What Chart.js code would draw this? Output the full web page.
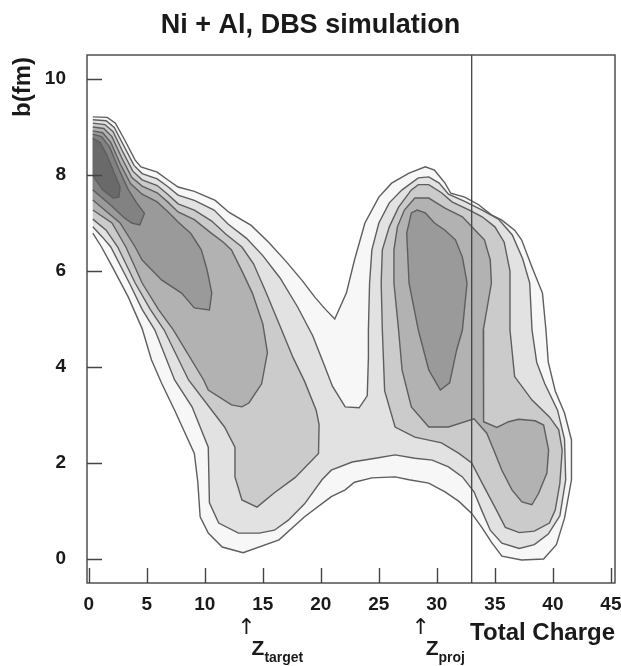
<!DOCTYPE html>
<html>
<head>
<meta charset="utf-8">
<script src="https://cdn.jsdelivr.net/npm/chart.js@4.4.1/dist/chart.umd.min.js"></script>
<style>
  html, body { margin: 0; padding: 0; background: #fff; }
  #grafico { display: block; }
</style>
</head>
<body>
<canvas id="grafico" width="621" height="666"></canvas>
<script>
// Textos del gráfico
const titulo = "Ni + Al, DBS simulation";
const tituloY = "b(fm)";
const tituloX = "Total Charge";

// Marcas de los ejes
const xTicks = [0, 5, 10, 15, 20, 25, 30, 35, 40, 45];
const yTicks = [0, 2, 4, 6, 8, 10];

// Línea vertical (carga total = 33)
const lineaCorte = 33;

// Flechas Z del blanco y del proyectil
const zMarcas = [13.6, 28.6];
const zSubindices = ["target", "proj"];

// Contornos: [carga total, b(fm)]
// Nivel 1 (el más externo) envuelve los dos lóbulos
const nivel1 = [
  [0.35,9.21],[1.6,9.2],[2.3,9.08],[3.1,8.73],[4.0,8.31],[4.5,8.17],[5.9,8.06],[6.8,7.9],[7.7,7.75],[9.1,7.66],
  [10.9,7.47],[12.1,7.22],[14.0,6.95],[15.5,6.6],[17.0,6.2],[18.4,5.8],[19.5,5.45],[20.4,5.2],[21.2,5.0],[22.2,5.54],
  [22.9,6.23],[23.8,7.0],[25.0,7.54],[26.1,7.83],[27.6,8.04],[29.0,8.17],[29.8,8.1],[30.7,7.83],[31.2,7.62],[32.4,7.54],
  [33.6,7.38],[34.7,7.17],[35.6,7.06],[36.7,6.85],[37.3,6.65],[38.2,6.08],[39.1,5.54],[39.4,4.77],[39.6,4.1],[40.2,3.5],
  [41.0,3.04],[41.6,2.48],[41.6,1.65],[41.0,0.85],[40.3,0.3],[39.2,0.0],[37.3,-0.02],[35.6,0.06],[34.7,0.35],[33.9,0.65],
  [33.0,0.95],[31.9,1.2],[30.7,1.4],[29.3,1.58],[27.6,1.65],[26.4,1.71],[24.4,1.69],[22.9,1.6],[22.1,1.44],[20.9,1.3],
  [18.6,0.88],[16.4,0.4],[13.3,0.13],[11.5,0.25],[10.3,0.54],[9.6,0.88],[9.4,1.6],[9.1,2.2],[7.4,3.1],[6.3,3.65],
  [5.4,4.15],[4.6,4.8],[3.4,5.46],[2.0,6.1],[1.1,6.5],[0.35,6.79]
];
const nivel2 = [
  [0.35,9.15],[1.5,9.13],[2.2,8.99],[3.0,8.62],[3.9,8.2],[4.6,8.03],[5.9,7.92],[6.8,7.76],[7.7,7.58],[9.1,7.47],
  [10.8,7.27],[12.0,6.98],[13.6,6.68],[15.0,6.32],[16.5,5.85],[18.0,5.25],[19.3,4.65],[20.2,4.1],[21.0,3.6],[22.1,3.17],
  [23.3,3.15],[24.0,3.4],[24.1,4.2],[24.1,4.77],[24.2,5.75],[24.4,6.44],[25.0,7.0],[25.9,7.42],[27.0,7.69],[28.4,7.94],
  [29.3,7.96],[30.2,7.83],[31.0,7.6],[32.4,7.45],[33.9,7.27],[35.3,7.08],[36.5,6.75],[37.4,6.25],[38.0,5.75],[38.2,4.77],
  [38.6,4.1],[39.3,3.65],[40.4,3.1],[41.0,2.5],[41.1,1.65],[40.6,0.9],[39.6,0.52],[38.4,0.3],[37.1,0.22],[35.6,0.33],
  [34.6,0.6],[33.8,1.05],[33.2,1.4],[32.2,1.71],[31.0,1.92],[29.6,2.06],[28.1,2.1],[26.4,2.17],[24.7,2.1],[22.7,2.02],
  [20.9,1.85],[20.1,1.65],[18.6,1.15],[17.2,0.81],[16.0,0.6],[14.7,0.54],[12.9,0.54],[11.2,0.75],[10.4,1.17],[10.3,2.33],
  [8.9,3.17],[7.4,3.73],[5.7,4.77],[4.6,5.2],[3.5,5.75],[1.9,6.5],[1.2,6.7],[0.35,6.92]
];
const nivel3Izq = [
  [0.35,9.08],[1.4,9.05],[2.1,8.9],[2.9,8.5],[3.8,8.08],[4.6,7.9],[5.9,7.78],[6.8,7.6],[7.7,7.4],[9.1,7.27],
  [10.6,7.04],[11.8,6.77],[13.2,6.5],[14.2,6.15],[15.2,5.6],[16.4,4.9],[17.6,4.2],[18.6,3.7],[19.6,3.1],[19.85,2.8],
  [19.8,2.2],[17.8,1.7],[16.0,1.38],[14.5,1.08],[13.2,1.23],[12.6,1.71],[12.6,2.33],[11.7,2.75],[8.6,3.73],[6.5,4.77],
  [5.3,5.2],[4.0,5.75],[2.5,6.5],[1.5,6.85],[0.35,7.08]
];
const nivel3Der = [
  [25.3,4.77],[25.2,5.75],[25.3,6.44],[25.9,6.92],[26.7,7.33],[27.8,7.69],[28.4,7.8],[29.3,7.8],[30.4,7.63],[31.3,7.44],
  [32.8,7.27],[33.9,7.13],[35.0,6.92],[35.8,6.6],[36.3,6.0],[36.3,4.77],[36.7,3.8],[38.2,3.31],[39.7,2.96],[40.5,2.69],
  [40.8,2.27],[40.6,1.58],[40.2,1.02],[39.7,0.75],[38.4,0.58],[37.1,0.55],[35.9,0.66],[35.0,1.08],[33.9,1.58],[33.0,2.0],
  [31.9,2.2],[30.4,2.42],[28.1,2.54],[26.4,2.75],[25.5,3.5]
];
const nivel4Izq = [
  [0.35,9.0],[1.3,8.97],[2.0,8.8],[2.8,8.38],[3.7,7.95],[4.6,7.77],[5.9,7.63],[6.8,7.44],[7.7,7.23],[9.1,7.07],
  [10.5,6.8],[11.6,6.6],[12.3,6.44],[13.3,5.95],[14.1,5.54],[15.0,4.9],[15.4,4.3],[14.9,3.65],[13.8,3.25],[13.2,3.17],
  [12.3,3.21],[10.3,3.52],[9.9,3.73],[7.3,4.77],[6.0,5.2],[4.6,5.75],[3.2,6.5],[2.0,7.0],[0.35,7.27]
];
const nivel4Der = [
  [26.7,4.77],[26.3,5.75],[26.3,6.44],[26.6,6.92],[27.2,7.27],[28.1,7.52],[29.3,7.52],[30.7,7.31],[32.2,7.13],[33.3,6.85],
  [34.1,6.65],[34.6,6.23],[34.7,5.75],[34.0,4.77],[34.0,3.6],[34.05,2.86],[35.17,2.74],[36.18,2.86],[37.04,2.91],[38.47,2.88],
  [39.2,2.79],[39.63,2.27],[39.48,1.79],[38.77,1.37],[38.19,1.13],[37.33,1.19],[36.47,1.44],[35.6,1.85],[34.9,2.27],[34.3,2.62],
  [33.2,2.92],[31.0,2.75],[29.3,2.75],[27.8,3.17],[27.0,3.94]
];
const nivel5Izq = [
  [0.35,8.92],[1.2,8.88],[1.9,8.68],[2.7,8.24],[3.6,7.82],[4.6,7.6],[5.9,7.44],[6.8,7.24],[7.7,7.02],[8.8,6.78],
  [9.7,6.44],[10.2,6.02],[10.6,5.54],[10.4,5.19],[9.1,5.23],[8.0,5.54],[6.3,5.81],[4.6,6.23],[4.0,6.5],[2.7,7.0],
  [0.35,7.48]
];
const nivel5Der = [
  [28.4,4.77],[27.6,5.75],[27.4,6.79],[27.8,7.21],[28.3,7.27],[29.0,7.21],[29.8,7.0],[30.7,6.85],[31.6,6.65],[32.2,6.29],
  [32.6,5.75],[32.2,4.77],[31.7,4.35],[31.1,3.67],[30.3,3.52],[29.3,3.94]
];
const nivel6 = [
  [0.35,8.85],[1.1,8.8],[1.8,8.58],[2.6,8.12],[3.4,7.7],[4.1,7.43],[4.8,7.2],[4.4,6.96],[3.7,7.0],[3.0,7.12],
  [2.0,7.35],[0.35,7.69]
];
const nivel7 = [
  [0.35,8.77],[1.0,8.67],[1.6,8.4],[2.1,8.1],[2.7,7.75],[2.6,7.54],[2.1,7.52],[1.2,7.69],[0.6,7.9],[0.35,8.0]
];

// Grises de relleno por nivel (1 = exterior)
const grises = ['#f7f7f7', '#e2e2e2', '#cbcbcb', '#b2b2b2', '#9a9a9a', '#828282', '#6a6a6a'];
const colorLinea = '#5e5e5e';
const fuente = '"Liberation Sans", Arial, Helvetica, sans-serif';

const contornos = [
  { nivel: 1, puntos: nivel1 },
  { nivel: 2, puntos: nivel2 },
  { nivel: 3, puntos: nivel3Izq },
  { nivel: 3, puntos: nivel3Der },
  { nivel: 4, puntos: nivel4Izq },
  { nivel: 4, puntos: nivel4Der },
  { nivel: 5, puntos: nivel5Izq },
  { nivel: 5, puntos: nivel5Der },
  { nivel: 6, puntos: nivel6 },
  { nivel: 7, puntos: nivel7 }
];

// Cerrar cada polígono y pasarlo a {x, y}
function aPoligono(puntos) {
  const pts = puntos.map(p => ({ x: p[0], y: p[1] }));
  pts.push({ x: puntos[0][0], y: puntos[0][1] });
  return pts;
}

// El lado pegado al eje izquierdo no se traza
const bordeOculto = ctx =>
  (ctx.p0.parsed.x < 0.5 && ctx.p1.parsed.x < 0.5) ? 'rgba(0,0,0,0)' : colorLinea;

const datasets = contornos.map(c => ({
  data: aPoligono(c.puntos),
  showLine: true,
  fill: 'shape',
  backgroundColor: grises[c.nivel - 1],
  borderColor: colorLinea,
  borderWidth: 1.4,
  pointRadius: 0,
  tension: 0,
  order: 20 - c.nivel,
  segment: { borderColor: bordeOculto }
}));

datasets.push({
  data: [{ x: lineaCorte, y: -0.5 }, { x: lineaCorte, y: 10.5 }],
  showLine: true,
  fill: false,
  borderColor: '#444',
  borderWidth: 1.3,
  pointRadius: 0,
  order: 0
});

// Marco, marcas interiores y textos
const decoracion = {
  id: 'decoracion',
  afterDraw(chart) {
    const { ctx, chartArea: a, scales } = chart;
    const x = scales.x, y = scales.y;
    ctx.save();
    ctx.strokeStyle = '#444';
    ctx.lineWidth = 1.4;
    ctx.strokeRect(a.left, a.top, a.right - a.left, a.bottom - a.top);

    ctx.beginPath();
    xTicks.forEach(v => {
      const px = Math.round(x.getPixelForValue(v)) + 0.5;
      ctx.moveTo(px, a.bottom);
      ctx.lineTo(px, a.bottom - 15);
    });
    yTicks.forEach(v => {
      const py = Math.round(y.getPixelForValue(v)) + 0.5;
      ctx.moveTo(a.left, py);
      ctx.lineTo(a.left + 15, py);
    });
    ctx.stroke();

    ctx.fillStyle = '#1a1a1a';
    ctx.textBaseline = 'alphabetic';

    ctx.font = 'bold 27px ' + fuente;
    ctx.textAlign = 'center';
    ctx.fillText(titulo, chart.width / 2, 33);

    ctx.font = 'bold 24px ' + fuente;
    ctx.textAlign = 'right';
    ctx.fillText(tituloX, a.right, 640);

    ctx.save();
    ctx.translate(30, 87);
    ctx.rotate(-Math.PI / 2);
    ctx.textAlign = 'center';
    ctx.fillText(tituloY, 0, 0);
    ctx.restore();

    zMarcas.forEach((v, i) => {
      const px = x.getPixelForValue(v);
      ctx.font = '22px "DejaVu Sans", sans-serif';
      ctx.textAlign = 'center';
      ctx.fillText('\u2191', px, 634);
      ctx.textAlign = 'left';
      ctx.font = 'bold 21px ' + fuente;
      ctx.fillText('Z', px + 5, 655);
      const w = ctx.measureText('Z').width;
      ctx.font = 'bold 14px ' + fuente;
      ctx.fillText(zSubindices[i], px + 5 + w, 662);
    });
    ctx.restore();
  }
};

const ctx = document.getElementById('grafico').getContext('2d');
new Chart(ctx, {
  type: 'scatter',
  data: { datasets },
  options: {
    responsive: false,
    animation: false,
    events: [],
    layout: { padding: { top: 55, right: 6, left: 0, bottom: 0 } },
    plugins: {
      legend: { display: false },
      tooltip: { enabled: false },
      title: { display: false }
    },
    scales: {
      x: {
        type: 'linear',
        min: -0.15,
        max: 45.35,
        grid: { display: false, drawTicks: false },
        border: { display: false },
        ticks: { color: '#1a1a1a', padding: 10, font: { family: fuente, size: 19, weight: 'bold' } },
        afterBuildTicks: s => { s.ticks = xTicks.map(v => ({ value: v })); },
        afterFit: s => { s.height = 83; s.paddingLeft = 0; s.paddingRight = 0; }
      },
      y: {
        type: 'linear',
        min: -0.5,
        max: 10.5,
        grid: { display: false, drawTicks: false },
        border: { display: false },
        ticks: { color: '#1a1a1a', padding: 21, font: { family: fuente, size: 19, weight: 'bold' } },
        afterBuildTicks: s => { s.ticks = yTicks.map(v => ({ value: v })); },
        afterFit: s => { s.width = 87; s.paddingTop = 0; s.paddingBottom = 0; }
      }
    }
  },
  plugins: [decoracion]
});
</script>
</body>
</html>
